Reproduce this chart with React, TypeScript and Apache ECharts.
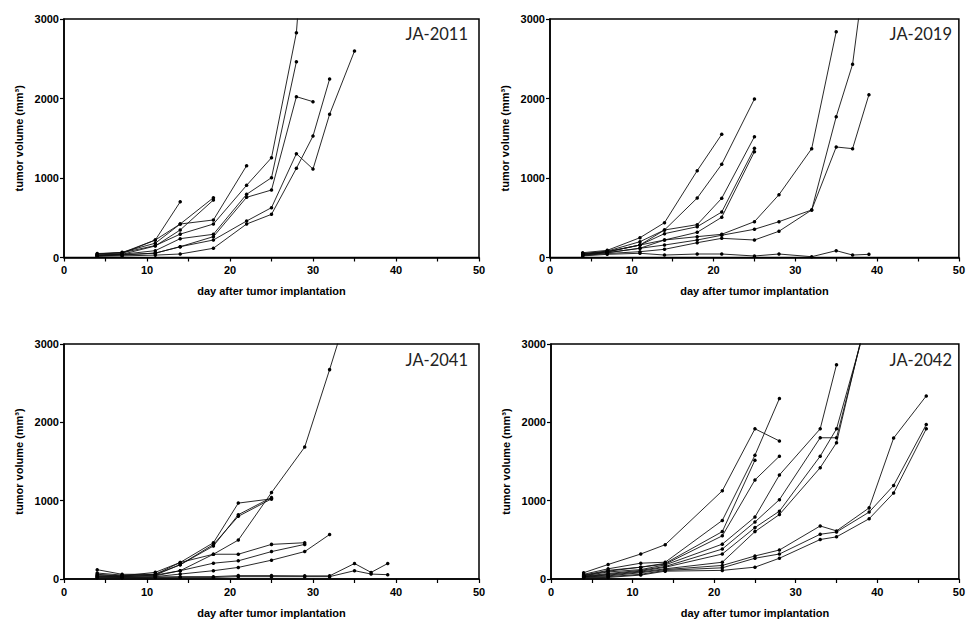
import React, { useEffect, useRef } from "react";
import * as echarts from "echarts";

// ---- Panel titles ----
const panelTitles = ["JA-2011", "JA-2019", "JA-2041", "JA-2042"];

// ---- Axis ticks ----
const yTicks = [0, 1000, 2000, 3000];
const xTicks = [0, 10, 20, 30, 40, 50];

// ---- Panel 1: JA-2011 ----
const p1Days = [4, 7, 11, 14, 18, 22, 25, 28, 30, 32, 35];
const p1S1 = [40, 60, 220, 700];
const p1S2 = [30, 50, 220, 421, 752];
const p1S3 = [20, 40, 145, 346, 723];
const p1S4 = [45, 65, 180, 421, 472, 1155];
const p1S5 = [50, 60, 150, 294, 421, 908, 1255, 2828, 5600];
const p1S6 = [30, 40, 86, 237, 292, 795, 1004, 2463];
const p1S7 = [25, 35, 55, 136, 262, 757, 849, 2023, 1960];
const p1S8 = [20, 30, 55, 136, 220, 459, 627, 1306, 1113, 1801, 2597];
const p1S9 = [15, 20, 30, 44, 116, 421, 543, 1122, 1528, 2245];

// ---- Panel 2: JA-2019 ----
const p2Days = [4, 7, 11, 14, 18, 21, 25, 28, 32, 35, 37, 39];
const p2S1 = [60, 90, 249, 438, 1092, 1549];
const p2S2 = [50, 80, 199, 346, 748, 1172, 1994];
const p2S3 = [45, 75, 157, 346, 413, 745, 1520];
const p2S4 = [40, 70, 157, 300, 387, 572, 1373];
const p2S5 = [35, 60, 116, 220, 317, 506, 1331];
const p2S6 = [40, 70, 157, 220, 262, 292, 451, 790, 1369, 2840];
const p2S7 = [30, 60, 116, 157, 220, 280, 355, 451, 598, 1771, 2430, 4000];
const p2S8 = [25, 50, 73, 103, 186, 241, 220, 330, 598, 1390, 1369, 2048];
const p2S9 = [20, 40, 53, 31, 44, 44, 19, 44, 10, 86, 31, 40];

// ---- Panel 3: JA-2041 ----
const p3Days = [4, 7, 11, 14, 18, 21, 25, 29, 32, 35, 37, 39];
const p3S1 = [119, 60, 60, 211, 463, 969, 1023];
const p3S2 = [76, 50, 50, 182, 421, 821, 1040];
const p3S3 = [60, 40, 85, 211, 316, 497, 1103, 1684, 2673, 3700];
const p3S4 = [50, 40, 60, 182, 440, 800, 1023];
const p3S5 = [40, 30, 50, 106, 316, 316, 442, 463];
const p3S6 = [34, 30, 40, 106, 202, 232, 350, 442];
const p3S7 = [30, 20, 30, 63, 106, 148, 240, 350, 568];
const p3S8 = [20, 20, 25, 30, 30, 43, 43, 40, 40, 198, 84, 198];
const p3S9 = [15, 15, 20, 20, 20, 30, 30, 30, 30, 106, 63, 55];

// ---- Panel 4: JA-2042 ----
const p4Days = [4, 7, 11, 14, 21, 25, 28, 33, 35, 39, 42, 46];
const p4S1 = [80, 185, 319, 438, 1126, 1917, 1762];
const p4S2 = [60, 130, 202, 214, 748, 1580, 2304];
const p4S3 = [50, 110, 151, 200, 605, 1517];
const p4S4 = [45, 100, 151, 190, 551, 1265, 1568];
const p4S5 = [40, 90, 120, 180, 445, 791, 1328, 1917, 2736];
const p4S6 = [35, 70, 110, 160, 382, 728, 1013, 1803, 1803, 3450];
const p4S7 = [30, 60, 100, 150, 319, 656, 866, 1568, 1917, 3400];
const p4S8 = [30, 50, 90, 130, 214, 605, 823, 1421, 1740, 3500];
const p4S9 = [25, 40, 80, 120, 173, 294, 370, 677, 614, 908, 1799, 2337];
const p4S10 = [20, 30, 60, 110, 143, 265, 319, 571, 600, 854, 1194, 1971];
const p4S11 = [15, 20, 50, 100, 110, 151, 265, 504, 538, 769, 1097, 1917];

const panels = [
  { days: p1Days, series: [p1S1, p1S2, p1S3, p1S4, p1S5, p1S6, p1S7, p1S8, p1S9] },
  { days: p2Days, series: [p2S1, p2S2, p2S3, p2S4, p2S5, p2S6, p2S7, p2S8, p2S9] },
  { days: p3Days, series: [p3S1, p3S2, p3S3, p3S4, p3S5, p3S6, p3S7, p3S8, p3S9] },
  {
    days: p4Days,
    series: [p4S1, p4S2, p4S3, p4S4, p4S5, p4S6, p4S7, p4S8, p4S9, p4S10, p4S11],
  },
];

const grids = [
  { left: 64, top: 19, width: 415, height: 238.5 },
  { left: 550, top: 19, width: 415, height: 238.5 },
  { left: 64, top: 344, width: 415, height: 238 },
  { left: 551, top: 344, width: 413, height: 238 },
];

const titlePos = [
  { right: 500, top: 25 },
  { right: 16, top: 25 },
  { right: 500, top: 351 },
  { right: 16, top: 351 },
];

const labelFont = "'Liberation Sans', Arial, sans-serif";

export default function App() {
  const ref = useRef<HTMLDivElement>(null);

  useEffect(() => {
    if (!ref.current) return;
    const chart = echarts.init(ref.current, undefined, { renderer: "svg" });

    const xAxis = grids.map((_, i) => ({
      type: "value",
      gridIndex: i,
      min: 0,
      max: 50,
      interval: 5,
      axisLine: { show: true, lineStyle: { color: "#000", width: 1.5 } },
      axisTick: { show: true, length: 4, lineStyle: { color: "#000", width: 1.2 } },
      axisLabel: {
        margin: 7,
        color: "#000",
        fontSize: 11,
        fontWeight: "bold",
        fontFamily: labelFont,
        formatter: (v: number) => (xTicks.includes(v) ? String(v) : ""),
      },
      splitLine: { show: false },
      name: "day after tumor implantation",
      nameLocation: "middle",
      nameGap: 28,
      nameTextStyle: {
        color: "#000",
        fontSize: 11,
        fontWeight: "bold",
        fontFamily: labelFont,
      },
    }));

    const yAxis = grids.map((_, i) => ({
      type: "value",
      gridIndex: i,
      min: 0,
      max: 3000,
      interval: 1000,
      axisLine: { show: true, lineStyle: { color: "#000", width: 1.5 } },
      axisTick: { show: true, length: 4, lineStyle: { color: "#000", width: 1.2 } },
      axisLabel: {
        margin: 5,
        color: "#000",
        fontSize: 11,
        fontWeight: "bold",
        fontFamily: labelFont,
        formatter: (v: number) => (yTicks.includes(v) ? String(v) : ""),
      },
      splitLine: { show: false },
      name: "tumor volume (mm³)",
      nameLocation: "middle",
      nameGap: 40,
      nameTextStyle: {
        color: "#000",
        fontSize: 11,
        fontWeight: "bold",
        fontFamily: labelFont,
      },
    }));

    const series: any[] = [];
    panels.forEach((p, pi) => {
      p.series.forEach((vals) => {
        series.push({
          type: "line",
          xAxisIndex: pi,
          yAxisIndex: pi,
          data: vals.map((v, k) => [p.days[k], v]),
          symbol: "circle",
          symbolSize: 3.5,
          clip: true,
          lineStyle: { color: "#111", width: 0.9 },
          itemStyle: { color: "#000" },
          emphasis: { disabled: true },
        });
      });
    });

    chart.setOption({
      animation: false,
      backgroundColor: "#fff",
      title: panelTitles.map((t, i) => ({
        text: t,
        right: titlePos[i].right,
        top: titlePos[i].top,
        padding: 0,
        textStyle: {
          fontFamily: "Lato, 'Open Sans', sans-serif",
          fontSize: 16.5,
          fontWeight: "normal",
          color: "#222",
        },
      })),
      grid: grids.map((g) => ({
        ...g,
        show: true,
        borderColor: "#000",
        borderWidth: 1.5,
        backgroundColor: "transparent",
        containLabel: false,
      })),
      xAxis,
      yAxis,
      series,
    });

    return () => chart.dispose();
  }, []);

  return (
    <div
      ref={ref}
      style={{ position: "fixed", left: 0, top: 0, width: 968, height: 619, background: "#fff" }}
    />
  );
}
